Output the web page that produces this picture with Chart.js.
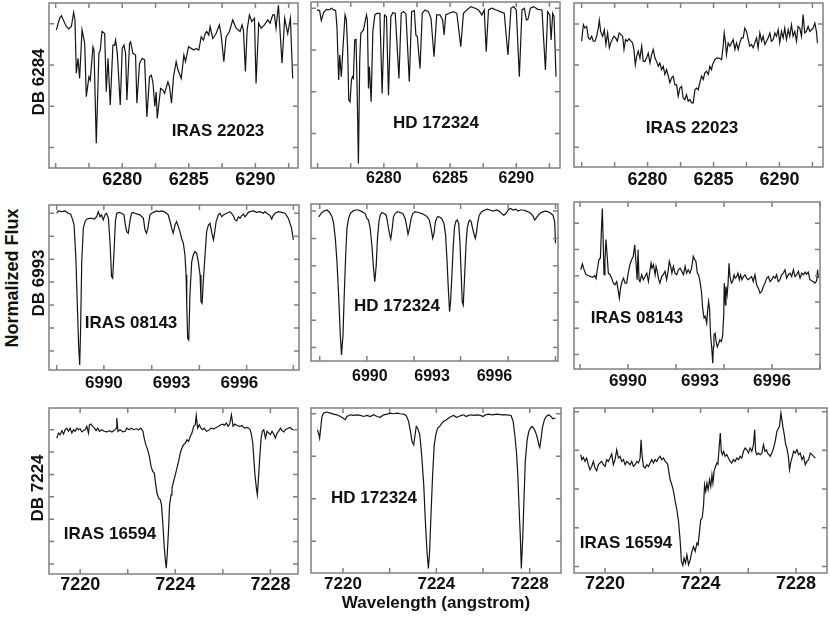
<!DOCTYPE html>
<html>
<head>
<meta charset="utf-8">
<script src="https://cdn.jsdelivr.net/npm/chart.js@4.4.0/dist/chart.umd.min.js"></script>
<style>
  body { margin: 0; background: #fff; width: 830px; height: 626px; position: relative; overflow: hidden;
         font-family: "Liberation Sans", Arial, sans-serif; font-weight: bold; color: #111; }
  canvas { position: absolute; }
  .lbl { position: absolute; white-space: nowrap; line-height: 1; transform: translate(-50%, -50%); }
  .rot { transform: translate(-50%, -50%) rotate(-90deg); }
</style>
</head>
<body>
<script>
// ---- DB 6284 (top row) ----
const ticks6284 = [6275, 6277.5, 6280, 6282.5, 6285, 6287.5, 6290, 6292.5];
const labels6284 = [6280, 6285, 6290];

const wave6284Iras = [
  6275.05, 6275.30, 6275.43, 6275.80, 6275.98, 6276.18, 6276.35, 6276.45, 6276.55, 6276.68,
  6276.80, 6276.98, 6277.18, 6277.30, 6277.50, 6277.60, 6277.80, 6277.88, 6278.05, 6278.25,
  6278.35, 6278.48, 6278.68, 6278.80, 6278.93, 6279.10, 6279.30, 6279.43, 6279.50, 6279.63,
  6279.85, 6280.00, 6280.13, 6280.25, 6280.35, 6280.55, 6280.63, 6280.80, 6281.00, 6281.10,
  6281.30, 6281.50, 6281.68, 6281.85, 6282.05, 6282.18, 6282.30, 6282.45, 6282.55, 6282.63,
  6282.88, 6283.05, 6283.18, 6283.43, 6283.55, 6283.70, 6283.85, 6284.05, 6284.18, 6284.43,
  6284.63, 6284.75, 6284.98, 6285.18, 6285.38, 6285.55, 6285.75, 6285.93, 6286.10, 6286.23,
  6286.35, 6286.50, 6286.60, 6286.80, 6287.05, 6287.30, 6287.43, 6287.63, 6287.80, 6288.05,
  6288.30, 6288.55, 6288.85, 6289.00, 6289.10, 6289.25, 6289.38, 6289.55, 6289.73, 6289.93,
  6290.05, 6290.25, 6290.43, 6290.68, 6290.93, 6291.10, 6291.30, 6291.43, 6291.55, 6291.73,
  6292.00, 6292.20, 6292.43, 6292.63, 6292.80];
const flux6284Iras = [
  0.985, 1.013, 1.019, 0.993, 0.987, 0.993, 1.027, 1.009, 0.880, 0.916,
  0.867, 0.985, 0.952, 0.823, 0.871, 0.863, 0.944, 0.936, 0.710, 0.928,
  0.936, 0.981, 0.976, 0.835, 0.916, 0.803, 0.948, 0.948, 0.960, 0.928,
  0.803, 0.940, 0.948, 0.928, 0.815, 0.952, 0.956, 0.928, 0.924, 0.807,
  0.904, 0.916, 0.912, 0.774, 0.871, 0.875, 0.859, 0.799, 0.834, 0.770,
  0.843, 0.839, 0.831, 0.859, 0.847, 0.807, 0.871, 0.908, 0.888, 0.867,
  0.924, 0.908, 0.944, 0.940, 0.936, 0.940, 0.936, 0.968, 0.960, 0.976,
  0.981, 0.972, 0.993, 0.964, 0.976, 0.997, 0.972, 0.908, 0.968, 0.981,
  1.009, 0.989, 0.981, 0.997, 0.985, 0.884, 0.985, 1.021, 1.005, 1.013,
  0.855, 1.001, 0.989, 0.997, 1.009, 1.001, 1.021, 1.021, 0.989, 1.045,
  0.904, 1.013, 0.976, 1.013, 0.867];

const wave6284Hd = [
  6274.95, 6275.15, 6275.28, 6275.45, 6275.66, 6275.86, 6276.04, 6276.21, 6276.36, 6276.46,
  6276.59, 6276.67, 6276.79, 6276.92, 6277.07, 6277.17, 6277.27, 6277.35, 6277.45, 6277.55,
  6277.63, 6277.70, 6277.80, 6277.90, 6277.98, 6278.08, 6278.18, 6278.26, 6278.36, 6278.46,
  6278.56, 6278.69, 6278.76, 6278.84, 6278.91, 6279.04, 6279.17, 6279.32, 6279.49, 6279.70,
  6279.87, 6280.05, 6280.20, 6280.35, 6280.53, 6280.68, 6280.86, 6281.14, 6281.31, 6281.49,
  6281.67, 6281.92, 6282.10, 6282.30, 6282.42, 6282.53, 6282.73, 6282.90, 6283.11, 6283.36,
  6283.56, 6283.79, 6283.99, 6284.24, 6284.44, 6284.55, 6284.67, 6284.92, 6285.25, 6285.51,
  6285.81, 6286.01, 6286.26, 6286.57, 6286.89, 6287.15, 6287.40, 6287.58, 6287.73, 6287.90,
  6288.16, 6288.48, 6288.79, 6289.09, 6289.37, 6289.60, 6289.80, 6290.00, 6290.23, 6290.43,
  6290.61, 6290.76, 6290.88, 6291.06, 6291.31, 6291.62, 6291.94, 6292.20, 6292.37, 6292.53,
  6292.63, 6292.75, 6292.85, 6293.00];
const flux6284Hd = [
  0.992, 0.989, 0.941, 0.979, 0.995, 0.992, 1.000, 0.992, 0.989, 0.912,
  0.656, 0.776, 0.672, 0.816, 0.968, 0.944, 0.800, 0.560, 0.552, 0.656,
  0.672, 0.664, 0.848, 0.851, 0.624, 0.256, 0.752, 0.880, 0.888, 0.896,
  0.928, 0.968, 0.944, 0.616, 0.720, 0.552, 0.888, 0.968, 0.976, 0.976,
  0.592, 0.968, 0.960, 0.584, 0.960, 0.979, 0.976, 0.664, 0.976, 0.984,
  0.973, 0.648, 0.984, 0.989, 0.872, 0.864, 0.712, 0.976, 0.992, 0.984,
  0.952, 0.768, 0.968, 0.968, 0.944, 0.872, 0.968, 0.976, 0.984, 0.976,
  0.816, 0.976, 0.992, 1.008, 1.000, 0.992, 0.968, 0.992, 0.792, 0.992,
  1.000, 0.992, 0.984, 0.976, 0.776, 1.000, 1.008, 0.992, 0.672, 0.992,
  1.000, 0.944, 0.947, 1.000, 1.008, 0.995, 0.992, 0.704, 0.984, 0.968,
  0.848, 0.976, 0.960, 0.672];

const wave6284IrasB = [
  6275.00, 6275.13, 6275.25, 6275.38, 6275.51, 6275.63, 6275.76, 6275.88, 6276.01, 6276.14,
  6276.26, 6276.34, 6276.44, 6276.59, 6276.72, 6276.84, 6276.97, 6277.10, 6277.20, 6277.32,
  6277.45, 6277.58, 6277.70, 6277.85, 6277.98, 6278.11, 6278.21, 6278.33, 6278.46, 6278.59,
  6278.74, 6278.86, 6278.96, 6279.07, 6279.17, 6279.29, 6279.42, 6279.55, 6279.67, 6279.80,
  6279.92, 6280.05, 6280.18, 6280.30, 6280.43, 6280.56, 6280.68, 6280.81, 6280.93, 6281.06,
  6281.19, 6281.31, 6281.44, 6281.57, 6281.69, 6281.82, 6281.94, 6282.07, 6282.20, 6282.32,
  6282.45, 6282.58, 6282.70, 6282.83, 6282.95, 6283.08, 6283.21, 6283.33, 6283.46, 6283.59,
  6283.71, 6283.84, 6283.96, 6284.09, 6284.22, 6284.34, 6284.47, 6284.60, 6284.72, 6284.85,
  6284.92, 6285.10, 6285.23, 6285.43, 6285.61, 6285.73, 6285.81, 6285.91, 6285.98, 6286.11,
  6286.24, 6286.36, 6286.49, 6286.62, 6286.74, 6286.87, 6286.99, 6287.12, 6287.25, 6287.37,
  6287.50, 6287.63, 6287.75, 6287.88, 6288.00, 6288.13, 6288.26, 6288.38, 6288.51, 6288.64,
  6288.76, 6288.89, 6289.01, 6289.14, 6289.27, 6289.39, 6289.52, 6289.65, 6289.77, 6289.90,
  6290.02, 6290.15, 6290.28, 6290.40, 6290.53, 6290.66, 6290.78, 6290.91, 6291.03, 6291.16,
  6291.29, 6291.41, 6291.54, 6291.67, 6291.79, 6291.92, 6292.04, 6292.17, 6292.30, 6292.42,
  6292.55, 6292.68, 6292.80, 6292.88];
const flux6284IrasB = [
  0.958, 0.998, 0.990, 0.994, 0.966, 0.962, 0.970, 0.958, 0.958, 0.970,
  0.990, 1.009, 0.982, 0.970, 0.986, 0.950, 0.978, 0.942, 0.954, 0.962,
  0.970, 0.966, 0.958, 0.978, 0.974, 0.970, 0.938, 0.962, 0.958, 0.964,
  0.958, 0.954, 0.938, 0.901, 0.921, 0.934, 0.917, 0.946, 0.909, 0.909,
  0.917, 0.929, 0.905, 0.925, 0.938, 0.917, 0.909, 0.897, 0.905, 0.889,
  0.897, 0.877, 0.889, 0.873, 0.857, 0.869, 0.873, 0.852, 0.852, 0.824,
  0.844, 0.848, 0.820, 0.816, 0.828, 0.812, 0.816, 0.808, 0.808, 0.840,
  0.844, 0.840, 0.857, 0.873, 0.865, 0.881, 0.885, 0.877, 0.897, 0.889,
  0.901, 0.913, 0.917, 0.917, 0.913, 0.946, 0.978, 0.954, 0.925, 0.954,
  0.946, 0.954, 0.962, 0.938, 0.954, 0.938, 0.954, 0.966, 0.966, 0.990,
  0.982, 0.962, 0.946, 0.950, 0.942, 0.954, 0.966, 0.942, 0.978, 0.958,
  0.970, 0.950, 0.958, 0.966, 0.978, 0.958, 0.962, 0.978, 0.970, 0.986,
  0.954, 0.982, 0.966, 0.990, 0.962, 0.986, 0.970, 0.998, 0.970, 0.982,
  0.958, 0.994, 0.990, 0.970, 1.023, 0.978, 0.982, 0.994, 0.982, 0.986,
  0.990, 1.002, 0.982, 0.954];

// ---- DB 6993 (middle row) ----
const labels6993 = [6990, 6993, 6996];
const ticks6993Iras = [6987.91, 6990.0, 6992.12, 6994.23, 6996.32, 6998.39];
const ticks6993Hd = [6987.59, 6989.86, 6992.13, 6994.37, 6996.66, 6998.94];
const ticks6993IrasB = [6988, 6990, 6992, 6994, 6996, 6998];

const wave6993Iras = [
  6987.91, 6987.98, 6988.13, 6988.28, 6988.42, 6988.53, 6988.62, 6988.68, 6988.76, 6988.82,
  6988.88, 6988.93, 6988.97, 6989.02, 6989.09, 6989.17, 6989.24, 6989.36, 6989.46, 6989.58,
  6989.68, 6989.75, 6989.83, 6989.90, 6989.97, 6990.05, 6990.12, 6990.20, 6990.27, 6990.34,
  6990.39, 6990.45, 6990.51, 6990.57, 6990.68, 6990.79, 6990.89, 6990.94, 6991.01, 6991.08,
  6991.16, 6991.23, 6991.30, 6991.38, 6991.48, 6991.60, 6991.75, 6991.82, 6991.89, 6991.96,
  6992.04, 6992.12, 6992.19, 6992.34, 6992.45, 6992.56, 6992.66, 6992.78, 6992.85, 6992.93,
  6993.00, 6993.07, 6993.15, 6993.22, 6993.37, 6993.44, 6993.52, 6993.59, 6993.64, 6993.67,
  6993.71, 6993.76, 6993.81, 6993.89, 6993.96, 6994.03, 6994.11, 6994.18, 6994.26, 6994.30,
  6994.35, 6994.40, 6994.48, 6994.55, 6994.63, 6994.70, 6994.77, 6994.85, 6994.89, 6994.97,
  6995.07, 6995.14, 6995.22, 6995.29, 6995.44, 6995.59, 6995.73, 6995.81, 6995.88, 6995.96,
  6996.03, 6996.10, 6996.18, 6996.25, 6996.32, 6996.40, 6996.47, 6996.62, 6996.77, 6996.91,
  6997.06, 6997.14, 6997.21, 6997.36, 6997.43, 6997.50, 6997.58, 6997.73, 6997.87, 6998.02,
  6998.17, 6998.24, 6998.31, 6998.39];
const flux6993Iras = [
  1.000, 1.010, 1.007, 1.010, 1.000, 0.996, 0.971, 0.949, 0.804, 0.615,
  0.426, 0.339, 0.499, 0.789, 0.935, 0.964, 0.975, 0.978, 0.978, 0.975,
  0.985, 1.007, 0.985, 0.993, 0.971, 0.993, 1.000, 0.978, 0.876, 0.724,
  0.717, 0.833, 0.964, 1.000, 1.004, 1.000, 0.993, 0.956, 0.920, 0.913,
  0.971, 1.000, 1.004, 1.000, 0.996, 0.993, 0.978, 0.927, 0.913, 0.942,
  0.993, 1.000, 1.004, 1.010, 1.007, 1.010, 1.007, 1.000, 0.993, 0.964,
  0.935, 0.913, 0.949, 0.964, 0.920, 0.891, 0.869, 0.818, 0.731, 0.600,
  0.455, 0.448, 0.644, 0.789, 0.818, 0.833, 0.826, 0.789, 0.731, 0.615,
  0.608, 0.702, 0.818, 0.920, 0.949, 0.956, 0.920, 0.884, 0.906, 0.964,
  0.993, 1.000, 0.985, 0.993, 1.000, 1.007, 0.990, 0.971, 0.967, 0.985,
  0.978, 0.990, 0.996, 0.985, 0.993, 1.004, 1.007, 1.010, 1.004, 1.007,
  1.000, 1.007, 1.000, 0.990, 0.975, 0.990, 1.000, 1.007, 1.004, 1.000,
  0.978, 0.956, 0.935, 0.884];

const wave6993Hd = [
  6987.54, 6987.65, 6987.78, 6987.94, 6988.07, 6988.18, 6988.26, 6988.34, 6988.42, 6988.50,
  6988.58, 6988.64, 6988.71, 6988.77, 6988.84, 6988.90, 6988.98, 6989.06, 6989.19, 6989.30,
  6989.46, 6989.62, 6989.78, 6989.86, 6989.94, 6990.02, 6990.10, 6990.18, 6990.24, 6990.31,
  6990.37, 6990.44, 6990.50, 6990.58, 6990.69, 6990.79, 6990.85, 6990.93, 6991.01, 6991.08,
  6991.14, 6991.22, 6991.33, 6991.46, 6991.59, 6991.70, 6991.78, 6991.84, 6991.91, 6991.99,
  6992.07, 6992.18, 6992.34, 6992.50, 6992.66, 6992.77, 6992.87, 6992.95, 6993.03, 6993.09,
  6993.16, 6993.25, 6993.35, 6993.46, 6993.57, 6993.65, 6993.72, 6993.78, 6993.84, 6993.89,
  6993.96, 6994.02, 6994.08, 6994.15, 6994.21, 6994.28, 6994.34, 6994.40, 6994.45, 6994.50,
  6994.56, 6994.63, 6994.69, 6994.76, 6994.82, 6994.88, 6994.95, 6995.01, 6995.08, 6995.14,
  6995.20, 6995.27, 6995.38, 6995.54, 6995.65, 6995.78, 6995.94, 6996.10, 6996.23, 6996.34,
  6996.45, 6996.55, 6996.66, 6996.77, 6996.90, 6997.03, 6997.14, 6997.25, 6997.38, 6997.54,
  6997.70, 6997.83, 6997.94, 6998.05, 6998.18, 6998.34, 6998.50, 6998.66, 6998.82, 6998.90,
  6998.94];
const flux6993Hd = [
  0.979, 0.991, 1.000, 1.004, 0.995, 0.979, 0.955, 0.900, 0.815, 0.693,
  0.546, 0.473, 0.546, 0.693, 0.839, 0.937, 0.973, 0.991, 1.000, 1.004,
  1.004, 0.998, 0.991, 0.973, 0.967, 0.937, 0.876, 0.790, 0.741, 0.802,
  0.900, 0.961, 0.985, 0.995, 0.991, 0.985, 0.961, 0.924, 0.898, 0.937,
  0.979, 0.991, 0.998, 0.995, 0.991, 0.973, 0.943, 0.915, 0.937, 0.973,
  0.991, 0.998, 0.995, 0.991, 0.985, 0.979, 0.967, 0.937, 0.900, 0.918,
  0.961, 0.979, 0.979, 0.973, 0.955, 0.912, 0.815, 0.717, 0.632, 0.668,
  0.778, 0.876, 0.943, 0.963, 0.967, 0.955, 0.888, 0.766, 0.668, 0.656,
  0.754, 0.876, 0.937, 0.961, 0.967, 0.961, 0.937, 0.918, 0.900, 0.924,
  0.961, 0.985, 0.998, 1.004, 1.007, 1.004, 1.000, 1.004, 1.000, 0.991,
  0.985, 0.991, 1.004, 1.010, 1.004, 1.007, 1.000, 1.004, 1.004, 1.000,
  0.995, 0.985, 0.967, 0.979, 0.991, 0.998, 1.000, 0.995, 0.985, 0.961,
  0.882];

const wave6993IrasB = [
  6988.03, 6988.10, 6988.17, 6988.25, 6988.35, 6988.44, 6988.53, 6988.61, 6988.67, 6988.72,
  6988.79, 6988.85, 6988.89, 6988.93, 6988.97, 6989.00, 6989.04, 6989.08, 6989.13, 6989.18,
  6989.25, 6989.32, 6989.39, 6989.46, 6989.53, 6989.60, 6989.64, 6989.69, 6989.75, 6989.81,
  6989.88, 6989.94, 6990.01, 6990.08, 6990.15, 6990.22, 6990.28, 6990.33, 6990.38, 6990.42,
  6990.46, 6990.50, 6990.57, 6990.64, 6990.71, 6990.78, 6990.85, 6990.92, 6990.96, 6991.00,
  6991.06, 6991.13, 6991.17, 6991.22, 6991.28, 6991.33, 6991.40, 6991.47, 6991.54, 6991.61,
  6991.68, 6991.72, 6991.78, 6991.83, 6991.89, 6991.96, 6992.03, 6992.10, 6992.17, 6992.24,
  6992.31, 6992.38, 6992.44, 6992.51, 6992.58, 6992.65, 6992.72, 6992.78, 6992.83, 6992.89,
  6992.94, 6993.00, 6993.06, 6993.11, 6993.17, 6993.22, 6993.28, 6993.32, 6993.36, 6993.40,
  6993.44, 6993.49, 6993.53, 6993.56, 6993.58, 6993.63, 6993.67, 6993.72, 6993.78, 6993.83,
  6993.89, 6993.94, 6993.99, 6994.01, 6994.06, 6994.08, 6994.13, 6994.17, 6994.21, 6994.25,
  6994.31, 6994.36, 6994.42, 6994.47, 6994.53, 6994.58, 6994.64, 6994.69, 6994.75, 6994.81,
  6994.88, 6994.94, 6995.01, 6995.08, 6995.15, 6995.22, 6995.29, 6995.36, 6995.43, 6995.50,
  6995.57, 6995.64, 6995.71, 6995.78, 6995.85, 6995.92, 6995.99, 6996.06, 6996.13, 6996.19,
  6996.26, 6996.33, 6996.40, 6996.47, 6996.54, 6996.61, 6996.68, 6996.75, 6996.82, 6996.89,
  6996.96, 6997.03, 6997.10, 6997.17, 6997.24, 6997.31, 6997.38, 6997.44, 6997.51, 6997.58,
  6997.65, 6997.72, 6997.79, 6997.86, 6997.90, 6997.93];
const flux6993IrasB = [
  1.023, 1.045, 1.023, 1.004, 1.001, 0.997, 0.994, 1.001, 0.989, 1.023,
  1.061, 1.068, 1.169, 1.256, 1.118, 1.004, 1.055, 1.138, 1.080, 1.010,
  1.004, 0.991, 0.972, 0.966, 0.978, 0.940, 0.915, 0.953, 0.978, 0.991,
  0.972, 0.972, 1.010, 1.042, 1.061, 1.074, 1.118, 1.055, 0.985, 1.099,
  0.985, 0.978, 1.004, 0.985, 0.997, 1.010, 0.978, 1.023, 1.048, 1.029,
  1.042, 1.004, 1.036, 1.017, 0.985, 0.972, 0.997, 1.004, 1.017, 0.985,
  1.023, 1.055, 1.036, 1.010, 1.036, 1.010, 1.004, 1.023, 1.029, 1.017,
  1.004, 1.036, 1.010, 1.023, 1.010, 1.029, 1.074, 1.061, 1.055, 1.010,
  1.004, 0.978, 0.940, 0.877, 0.839, 0.845, 0.819, 0.870, 0.902, 0.870,
  0.775, 0.724, 0.667, 0.730, 0.775, 0.781, 0.750, 0.730, 0.743, 0.756,
  0.750, 0.769, 0.851, 0.972, 0.889, 0.959, 0.928, 0.972, 1.048, 0.997,
  0.972, 0.978, 1.004, 0.991, 0.997, 1.010, 0.985, 1.004, 0.985, 0.997,
  1.004, 0.991, 0.985, 0.991, 0.997, 0.978, 1.004, 0.966, 0.953, 0.934,
  0.940, 0.959, 0.972, 0.991, 0.997, 0.978, 0.985, 0.997, 0.991, 1.004,
  0.978, 0.985, 1.004, 1.010, 1.023, 0.991, 1.004, 1.010, 0.997, 1.023,
  0.997, 1.004, 1.017, 0.991, 1.010, 1.004, 1.014, 1.006, 1.014, 0.985,
  0.981, 0.978, 0.972, 0.981, 1.023, 0.991];

// ---- DB 7224 (bottom row) ----
const ticks7224 = [7220, 7222, 7224, 7226, 7228];
const labels7224 = [7220, 7224, 7228];

const wave7224Iras = [
  7219.02, 7219.09, 7219.16, 7219.23, 7219.30, 7219.37, 7219.44, 7219.51, 7219.58, 7219.65,
  7219.72, 7219.79, 7219.86, 7219.93, 7220.00, 7220.07, 7220.14, 7220.21, 7220.28, 7220.35,
  7220.39, 7220.45, 7220.53, 7220.60, 7220.67, 7220.74, 7220.81, 7220.91, 7221.01, 7221.12,
  7221.24, 7221.33, 7221.43, 7221.52, 7221.54, 7221.59, 7221.68, 7221.80, 7221.89, 7221.96,
  7222.06, 7222.15, 7222.25, 7222.36, 7222.46, 7222.55, 7222.64, 7222.69, 7222.76, 7222.84,
  7222.91, 7222.98, 7223.05, 7223.12, 7223.17, 7223.23, 7223.30, 7223.37, 7223.42, 7223.48,
  7223.54, 7223.59, 7223.62, 7223.66, 7223.72, 7223.76, 7223.82, 7223.86, 7223.93, 7224.00,
  7224.07, 7224.14, 7224.21, 7224.28, 7224.35, 7224.42, 7224.49, 7224.56, 7224.63, 7224.70,
  7224.77, 7224.84, 7224.88, 7224.94, 7225.01, 7225.08, 7225.15, 7225.22, 7225.31, 7225.40,
  7225.50, 7225.61, 7225.73, 7225.82, 7225.92, 7226.01, 7226.06, 7226.15, 7226.22, 7226.29,
  7226.36, 7226.43, 7226.50, 7226.60, 7226.71, 7226.81, 7226.91, 7227.02, 7227.13, 7227.19,
  7227.26, 7227.30, 7227.35, 7227.41, 7227.45, 7227.49, 7227.55, 7227.61, 7227.66, 7227.72,
  7227.79, 7227.86, 7227.93, 7228.00, 7228.07, 7228.14, 7228.21, 7228.28, 7228.35, 7228.42,
  7228.49, 7228.56, 7228.63, 7228.70, 7228.77, 7228.84, 7228.91, 7228.98];
const flux7224Iras = [
  0.963, 0.985, 0.978, 0.996, 0.981, 1.000, 1.007, 0.993, 1.007, 0.985,
  1.000, 0.993, 1.007, 1.000, 1.004, 0.990, 0.996, 1.000, 1.015, 0.985,
  1.022, 1.025, 1.015, 1.007, 0.996, 1.007, 0.993, 1.000, 0.993, 0.990,
  0.996, 0.990, 0.996, 1.007, 1.052, 0.993, 1.000, 0.990, 0.993, 1.007,
  1.000, 1.007, 1.000, 1.004, 1.000, 1.007, 0.993, 0.963, 0.933, 0.910,
  0.881, 0.836, 0.813, 0.806, 0.761, 0.716, 0.694, 0.687, 0.664, 0.575,
  0.470, 0.410, 0.381, 0.440, 0.560, 0.664, 0.709, 0.739, 0.769, 0.798,
  0.828, 0.858, 0.896, 0.918, 0.933, 0.940, 0.955, 0.948, 0.970, 0.985,
  1.015, 1.022, 1.064, 1.007, 1.022, 1.007, 1.000, 1.007, 0.993, 0.996,
  1.007, 1.004, 1.010, 1.015, 1.022, 1.025, 1.019, 1.030, 1.015, 1.025,
  1.067, 1.015, 1.025, 1.019, 1.015, 1.019, 1.007, 1.010, 1.004, 0.985,
  0.940, 0.873, 0.798, 0.739, 0.709, 0.769, 0.873, 0.963, 0.993, 1.000,
  0.963, 0.993, 0.985, 0.978, 0.993, 0.981, 0.963, 0.985, 0.993, 1.007,
  0.996, 0.990, 1.000, 1.004, 1.007, 1.010, 1.001, 1.000];

const wave7224Hd = [
  7218.91, 7218.97, 7219.00, 7219.10, 7219.17, 7219.31, 7219.46, 7219.60, 7219.74, 7219.89,
  7220.00, 7220.10, 7220.17, 7220.31, 7220.46, 7220.60, 7220.74, 7220.89, 7221.03, 7221.17,
  7221.31, 7221.46, 7221.60, 7221.74, 7221.89, 7222.03, 7222.17, 7222.31, 7222.46, 7222.60,
  7222.71, 7222.81, 7222.89, 7222.96, 7223.03, 7223.09, 7223.14, 7223.20, 7223.29, 7223.37,
  7223.46, 7223.53, 7223.60, 7223.66, 7223.71, 7223.77, 7223.84, 7223.91, 7223.99, 7224.06,
  7224.14, 7224.24, 7224.31, 7224.43, 7224.53, 7224.63, 7224.74, 7224.86, 7224.96, 7225.07,
  7225.17, 7225.27, 7225.39, 7225.49, 7225.60, 7225.74, 7225.89, 7226.00, 7226.10, 7226.24,
  7226.39, 7226.60, 7226.81, 7227.03, 7227.20, 7227.29, 7227.36, 7227.43, 7227.49, 7227.54,
  7227.60, 7227.64, 7227.70, 7227.76, 7227.81, 7227.89, 7227.96, 7228.03, 7228.10, 7228.17,
  7228.24, 7228.31, 7228.39, 7228.43, 7228.49, 7228.54, 7228.63, 7228.71, 7228.81, 7228.91,
  7229.00, 7229.10];
const flux7224Hd = [
  0.924, 0.901, 0.885, 0.987, 1.003, 1.008, 1.003, 0.998, 0.995, 0.987,
  0.980, 0.972, 0.987, 0.995, 0.992, 0.995, 0.992, 0.987, 0.992, 0.987,
  0.995, 0.987, 0.983, 0.995, 0.998, 1.003, 1.000, 1.003, 1.000, 0.998,
  0.992, 0.964, 0.917, 0.869, 0.854, 0.901, 0.940, 0.932, 0.901, 0.806,
  0.665, 0.491, 0.350, 0.271, 0.350, 0.523, 0.712, 0.854, 0.909, 0.932,
  0.940, 0.956, 0.964, 0.972, 0.980, 0.987, 0.992, 0.983, 0.987, 0.992,
  0.995, 0.987, 0.992, 0.995, 0.992, 0.995, 0.992, 0.987, 0.995, 0.998,
  0.995, 0.998, 0.995, 0.995, 0.992, 0.964, 0.901, 0.822, 0.712, 0.570,
  0.413, 0.271, 0.413, 0.617, 0.775, 0.877, 0.917, 0.932, 0.940, 0.932,
  0.917, 0.893, 0.854, 0.841, 0.885, 0.932, 0.972, 0.987, 0.995, 0.987,
  0.976, 0.980];

const wave7224IrasB = [
  7218.98, 7219.03, 7219.09, 7219.16, 7219.23, 7219.30, 7219.37, 7219.44, 7219.51, 7219.58,
  7219.65, 7219.72, 7219.79, 7219.86, 7219.93, 7220.00, 7220.07, 7220.14, 7220.21, 7220.28,
  7220.35, 7220.42, 7220.49, 7220.56, 7220.63, 7220.70, 7220.77, 7220.84, 7220.91, 7220.98,
  7221.05, 7221.12, 7221.19, 7221.26, 7221.33, 7221.40, 7221.47, 7221.51, 7221.55, 7221.61,
  7221.68, 7221.75, 7221.82, 7221.89, 7221.96, 7222.03, 7222.10, 7222.17, 7222.24, 7222.31,
  7222.38, 7222.45, 7222.52, 7222.59, 7222.63, 7222.67, 7222.73, 7222.80, 7222.87, 7222.94,
  7223.01, 7223.08, 7223.15, 7223.20, 7223.26, 7223.31, 7223.37, 7223.43, 7223.50, 7223.57,
  7223.64, 7223.71, 7223.78, 7223.85, 7223.90, 7223.96, 7224.01, 7224.07, 7224.13, 7224.17,
  7224.22, 7224.27, 7224.32, 7224.38, 7224.43, 7224.48, 7224.52, 7224.57, 7224.63, 7224.69,
  7224.73, 7224.78, 7224.83, 7224.87, 7224.92, 7224.97, 7225.03, 7225.10, 7225.17, 7225.24,
  7225.31, 7225.38, 7225.45, 7225.52, 7225.59, 7225.66, 7225.73, 7225.80, 7225.87, 7225.94,
  7226.01, 7226.08, 7226.15, 7226.22, 7226.27, 7226.31, 7226.36, 7226.43, 7226.50, 7226.57,
  7226.64, 7226.70, 7226.76, 7226.81, 7226.87, 7226.92, 7226.99, 7227.06, 7227.13, 7227.20,
  7227.27, 7227.31, 7227.37, 7227.41, 7227.45, 7227.51, 7227.57, 7227.62, 7227.68, 7227.73,
  7227.79, 7227.85, 7227.90, 7227.97, 7228.04, 7228.11, 7228.18, 7228.25, 7228.32, 7228.39,
  7228.46, 7228.53, 7228.60, 7228.67, 7228.74, 7228.81];
const flux7224IrasB = [
  0.978, 0.952, 0.964, 0.943, 0.960, 0.926, 0.900, 0.917, 0.943, 0.909,
  0.895, 0.926, 0.935, 0.943, 0.926, 0.917, 0.952, 0.943, 0.960, 0.981,
  0.926, 0.952, 1.003, 0.960, 0.969, 0.943, 0.952, 0.926, 0.943, 0.935,
  0.926, 0.943, 0.917, 0.926, 0.943, 0.935, 0.960, 1.055, 0.978, 0.917,
  0.909, 0.926, 0.917, 0.935, 0.952, 0.935, 0.952, 0.943, 0.960, 0.969,
  0.952, 0.960, 0.943, 0.935, 0.926, 0.891, 0.848, 0.822, 0.788, 0.736,
  0.693, 0.633, 0.529, 0.426, 0.405, 0.443, 0.417, 0.460, 0.409, 0.435,
  0.478, 0.503, 0.478, 0.521, 0.512, 0.581, 0.641, 0.650, 0.719, 0.822,
  0.788, 0.831, 0.797, 0.848, 0.814, 0.874, 0.831, 0.891, 0.917, 0.935,
  0.929, 1.012, 1.090, 0.995, 0.978, 0.995, 0.969, 0.978, 0.960, 0.943,
  0.935, 0.952, 0.943, 0.960, 0.952, 0.969, 0.960, 0.995, 1.012, 1.003,
  0.986, 1.012, 0.995, 1.029, 1.107, 0.995, 0.978, 0.986, 0.978, 0.986,
  1.029, 0.995, 1.003, 0.986, 0.978, 0.969, 0.986, 1.012, 1.047, 1.098,
  1.116, 1.124, 1.193, 1.159, 1.124, 1.081, 1.029, 1.012, 0.969, 0.900,
  0.943, 0.969, 0.995, 0.986, 1.003, 0.978, 0.986, 0.952, 0.969, 0.926,
  0.943, 0.952, 0.986, 0.978, 0.969, 0.960];

// panel layout: box = [left, top, right, bottom] of the plot frame on the page
const panels = [
  { box: [49, 3, 298, 168], wave: wave6284Iras, flux: flux6284Iras, xr: [6274.5, 6293.2], yr: [0.65, 1.05],
    xMarks: ticks6284, xLabels: labels6284, yMarks: [0.7, 0.8, 0.9, 1.0], fs: 18, pad: 1, star: 'IRAS 22023', at: [218, 130] },
  { box: [311, 2, 560, 168], wave: wave6284Hd, flux: flux6284Hd, xr: [6274.5, 6293.3], yr: [0.235, 1.03],
    xMarks: ticks6284, xLabels: labels6284, yMarks: [0.4, 0.6, 0.8, 1.0], fs: 16, pad: 1, star: 'HD 172324', at: [436, 122] },
  { box: [574, 3, 823, 167], wave: wave6284IrasB, flux: flux6284IrasB, xr: [6274.42, 6293.3], yr: [0.652, 1.051],
    xMarks: ticks6284, xLabels: labels6284, yMarks: [0.7, 0.8, 0.9, 1.0], fs: 18, pad: 2, star: 'IRAS 22023', at: [692, 127] },
  { box: [49, 205, 299, 370], wave: wave6993Iras, flux: flux6993Iras, xr: [6987.57, 6998.64], yr: [0.317, 1.036],
    xMarks: ticks6993Iras, xLabels: labels6993, yMarks: [0.4, 0.5, 0.6, 0.7, 0.8, 0.9, 1.0], fs: 17, pad: 3, star: 'IRAS 08143', at: [131, 322] },
  { box: [311, 204, 558, 361], wave: wave6993Hd, flux: flux6993Hd, xr: [6987.17, 6999.06], yr: [0.451, 1.026],
    xMarks: ticks6993Hd, xLabels: labels6993, yMarks: [0.5, 0.6, 0.7, 0.8, 0.9, 1.0], fs: 16, pad: 6, star: 'HD 172324', at: [397, 305] },
  { box: [574, 202, 820, 369], wave: wave6993IrasB, flux: flux6993IrasB, xr: [6987.75, 6998.0], yr: [0.645, 1.281],
    xMarks: ticks6993IrasB, xLabels: labels6993, yMarks: [0.7, 0.8, 0.9, 1.0, 1.1, 1.2], fs: 17, pad: 2, star: 'IRAS 08143', at: [637, 317] },
  { box: [49, 408, 298, 574], wave: wave7224Iras, flux: flux7224Iras, xr: [7218.69, 7229.16], yr: [0.355, 1.097],
    xMarks: ticks7224, xLabels: labels7224, yMarks: [0.4, 0.5, 0.6, 0.7, 0.8, 0.9, 1.0], fs: 18, pad: 0, star: 'IRAS 16594', at: [110, 533] },
  { box: [311, 408, 561, 573], wave: wave7224Hd, flux: flux7224Hd, xr: [7218.63, 7229.34], yr: [0.25, 1.027],
    xMarks: ticks7224, xLabels: labels7224, yMarks: [0.4, 0.6, 0.8, 1.0], fs: 17, pad: 1, star: 'HD 172324', at: [374, 497] },
  { box: [574, 408, 827, 573], wave: wave7224IrasB, flux: flux7224IrasB, xr: [7218.7, 7229.3], yr: [0.366, 1.219],
    xMarks: ticks7224, xLabels: labels7224, yMarks: [0.4, 0.6, 0.8, 1.0, 1.2], fs: 18, pad: 0, star: 'IRAS 16594', at: [626, 542] }
];

// frame + inward tick marks on all four sides
const frameTicks = {
  id: 'frameTicks',
  afterDatasetsDraw(chart, args, opts) {
    const { ctx, chartArea: a, scales: { x, y } } = chart;
    ctx.save();
    ctx.strokeStyle = '#808080';
    ctx.lineWidth = 1.5;
    ctx.beginPath();
    opts.xMarks.forEach(v => {
      const px = x.getPixelForValue(v);
      ctx.moveTo(px, a.bottom); ctx.lineTo(px, a.bottom - 5);
      ctx.moveTo(px, a.top); ctx.lineTo(px, a.top + 5);
    });
    opts.yMarks.forEach(v => {
      const py = y.getPixelForValue(v);
      ctx.moveTo(a.left, py); ctx.lineTo(a.left + 5, py);
      ctx.moveTo(a.right, py); ctx.lineTo(a.right - 5, py);
    });
    ctx.stroke();
    ctx.strokeRect(a.left, a.top, a.right - a.left, a.bottom - a.top);
    ctx.restore();
  }
};

function addLabel(text, cx, cy, size, rotate) {
  const d = document.createElement('div');
  d.className = rotate ? 'lbl rot' : 'lbl';
  d.textContent = text;
  d.style.left = cx + 'px';
  d.style.top = cy + 'px';
  d.style.fontSize = size + 'px';
  document.body.appendChild(d);
}

panels.forEach(p => {
  const [l, t, r, b] = p.box;
  const w = r - l + 8, h = b - t + 4 + 30;
  const cv = document.createElement('canvas');
  cv.width = w; cv.height = h;
  cv.style.left = (l - 4) + 'px'; cv.style.top = (t - 4) + 'px';
  cv.style.width = w + 'px'; cv.style.height = h + 'px';
  document.body.appendChild(cv);

  new Chart(cv, {
    type: 'line',
    data: {
      datasets: [{
        data: p.wave.map((v, i) => ({ x: v, y: p.flux[i] })),
        borderColor: '#151515',
        borderWidth: 1.2,
        pointRadius: 0,
        tension: 0,
        fill: false
      }]
    },
    options: {
      responsive: false,
      animation: false,
      events: [],
      layout: { padding: { left: 4, right: 4, top: 4, bottom: 0 } },
      plugins: { legend: { display: false }, tooltip: { enabled: false },
                 frameTicks: { xMarks: p.xMarks, yMarks: p.yMarks } },
      scales: {
        x: {
          type: 'linear', min: p.xr[0], max: p.xr[1],
          afterBuildTicks: s => { s.ticks = p.xLabels.map(v => ({ value: v })); },
          afterFit: s => { s.height = 30; },
          grid: { display: false, drawTicks: false },
          border: { display: false },
          ticks: {
            autoSkip: false, maxRotation: 0, padding: p.pad, color: '#111',
            font: { family: '"Liberation Sans", Arial, sans-serif', size: p.fs, weight: 'bold' },
            callback: v => String(v)
          }
        },
        y: { type: 'linear', display: false, min: p.yr[0], max: p.yr[1] }
      }
    },
    plugins: [frameTicks]
  });

  addLabel(p.star, p.at[0], p.at[1], 17, false);
});

// axis titles and row labels
addLabel('Normalized Flux', 12, 278, 18, true);
addLabel('DB 6284', 38, 82, 17, true);
addLabel('DB 6993', 38, 283, 17, true);
addLabel('DB 7224', 37, 488, 17, true);
addLabel('Wavelength (angstrom)', 436, 602, 17, false);
</script>
</body>
</html>
